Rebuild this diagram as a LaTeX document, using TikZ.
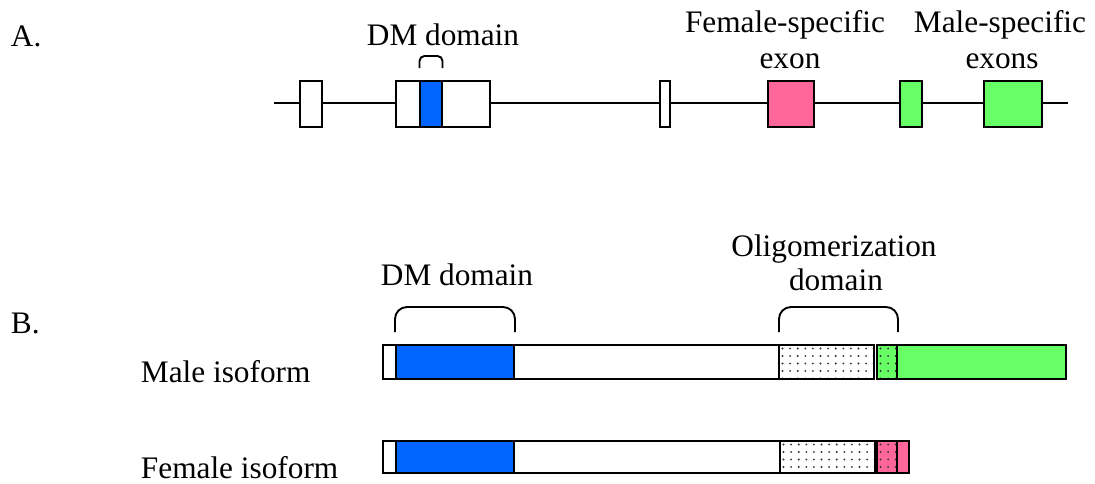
\documentclass[tikz,border=0pt]{standalone}
\usepackage{fontspec}
\setmainfont{Liberation Serif}
\definecolor{dmblue}{HTML}{0066FF}
\definecolor{fpink}{HTML}{FF6699}
\definecolor{mgreen}{HTML}{66FF66}
\newcommand\mydots[4]{%
  \begin{scope}
    \clip (#1+1.2,#2+1.2) rectangle (#3-1.2,#4-1.2);
    \foreach \i in {0,...,14}{\foreach \j in {0,...,5}{%
      \fill[black!80] ({#1+3.5+7.6*\i},{#2+3.5+7.5*\j}) circle (1.05pt);}}
  \end{scope}}
\begin{document}
\begin{tikzpicture}[x=1pt,y=-1pt,line width=1.9pt,
  box/.style={draw=black,line width=1.9pt,inner sep=0pt,outer sep=0pt,anchor=north west,fill=white},
  lbl/.style={font=\fontsize{31.3}{36}\selectfont,inner sep=0pt,anchor=base},
  brk/.style={line width=1.9pt}]
\useasboundingbox (0,0) rectangle (1095,483);
% ---------- A ----------
\node[lbl,anchor=base west] (labA) at (10,46) {A.};
\node[lbl] (dmA) at (443,45) {DM domain};
\node[lbl] (fs1) at (785,32) {Female-specific};
\node[lbl] (fs2) at (790,68) {exon};
\node[lbl] (ms1) at (1000,32) {Male-specific};
\node[lbl] (ms2) at (1002,68) {exons};
\coordinate (ls) at (274,103);
\coordinate (le) at (1068,103);
\draw (ls) -- (le);
\node[box,minimum width=22pt,minimum height=46pt] (e1) at (300,81) {};
\node[box,minimum width=94pt,minimum height=46pt] (e2) at (396,81) {};
\node[box,fill=dmblue,minimum width=22pt,minimum height=46pt] (e2dm) at (420,81) {};
\node[box,minimum width=10pt,minimum height=46pt] (e3) at (660,81) {};
\node[box,fill=fpink,minimum width=46pt,minimum height=46pt] (fex) at (768,81) {};
\node[box,fill=mgreen,minimum width=22pt,minimum height=46pt] (mex1) at (900,81) {};
\node[box,fill=mgreen,minimum width=58pt,minimum height=46pt] (mex2) at (984,81) {};
\draw[brk,rounded corners=5pt] (419.5,68) -- (419.5,56) -- (442.5,56) -- (442.5,68);
% ---------- B ----------
\node[lbl,anchor=base west] (labB) at (10,333) {B.};
\node[lbl] (dmB) at (457,285) {DM domain};
\node[lbl] (ol1) at (834,256) {Oligomerization};
\node[lbl] (ol2) at (836,290) {domain};
\node[lbl,anchor=base west] (male) at (140,382) {Male isoform};
\node[lbl,anchor=base west] (female) at (140,478) {Female isoform};
\draw[brk,rounded corners=12pt] (395,332) -- (395,307) -- (515,307) -- (515,332);
\draw[brk,rounded corners=12pt] (779,332) -- (779,307) -- (898,307) -- (898,332);
% male bar
\node[box,minimum width=13pt,minimum height=34pt] (m0) at (383,345) {};
\node[box,fill=dmblue,minimum width=118pt,minimum height=34pt] (m1) at (396,345) {};
\node[box,minimum width=265pt,minimum height=34pt] (m2) at (514,345) {};
\node[box,minimum width=95pt,minimum height=34pt] (m3) at (779,345) {};
\mydots{779}{345}{874}{379}
\node[box,fill=mgreen,minimum width=20pt,minimum height=34pt] (m4) at (877,345) {};
\mydots{877}{345}{897}{379}
\node[box,fill=mgreen,minimum width=169pt,minimum height=34pt] (m5) at (897,345) {};
% female bar
\node[box,minimum width=13pt,minimum height=32pt] (f0) at (383,441) {};
\node[box,fill=dmblue,minimum width=118pt,minimum height=32pt] (f1) at (396,441) {};
\node[box,minimum width=266pt,minimum height=32pt] (f2) at (514,441) {};
\node[box,minimum width=95pt,minimum height=32pt] (f3) at (780,441) {};
\mydots{780}{441}{875}{473}
\node[box,fill=fpink,minimum width=20pt,minimum height=32pt] (f4) at (877,441) {};
\mydots{877}{441}{897}{473}
\node[box,fill=fpink,minimum width=12pt,minimum height=32pt] (f5) at (897,441) {};
\end{tikzpicture}
\end{document}
